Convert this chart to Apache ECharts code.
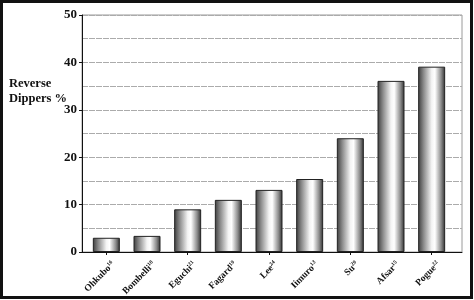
<!DOCTYPE html>
<html>
<head>
<meta charset="utf-8">
<script src="https://cdn.jsdelivr.net/npm/echarts@6/dist/echarts.min.js"></script>
<style>html,body{margin:0;padding:0;background:#fff;}#c{width:474px;height:300px;}</style>
</head>
<body>
<div id="c"></div>
<script>
const studies = ['Ohkubo','Bombelli','Eguchi','Fagard','Lee','Iimuro','Su','Afsar','Pogue'];
const refs = ['16','18','21','19','24','13','20','15','22'];
const reverseDippers = [3.0, 3.4, 9.0, 11.0, 13.1, 15.4, 24.0, 36.1, 39.1];
const yMin = 0, yMax = 50, yStep = 10;
const yTitle = ['Reverse', 'Dippers %'];

const serif = '"Liberation Serif", "Times New Roman", serif';
const chart = echarts.init(document.getElementById('c'));
chart.setOption({
  backgroundColor: '#fff',
  animation: false,
  grid: [
    {left: 82, top: 15, width: 380, height: 237, show: true, borderColor: '#9a9a9a', borderWidth: 1, backgroundColor: 'transparent'},
    {left: 86, top: 15, width: 366, height: 237},
    {left: 93, top: 15, width: 366, height: 237}
  ],
  xAxis: [
    {type: 'value', gridIndex: 0, min: 0, max: 1, axisLine: {show: true, onZero: false, lineStyle: {color: '#111', width: 1}},
     axisTick: {show: false}, axisLabel: {show: false}, splitLine: {show: false}},
    {type: 'category', gridIndex: 1, data: studies,
     axisLine: {show: false},
     axisTick: {show: true, alignWithLabel: true, length: 3, lineStyle: {color: '#111'}},
     axisLabel: {show: false}},
    {type: 'category', gridIndex: 2, data: studies,
     axisLine: {show: false}, axisTick: {show: false},
     axisLabel: {
       interval: 0, rotate: 45, margin: 11,
       formatter: (v, i) => '{n|' + v + '}{s|' + refs[i] + '}',
       rich: {
         n: {fontFamily: serif, fontWeight: 'bold', fontSize: 9.5, color: '#111', lineHeight: 11},
         s: {fontFamily: serif, fontWeight: 'bold', fontSize: 5.5, color: '#111', verticalAlign: 'top', lineHeight: 11}
       }
     }}
  ],
  yAxis: [
    {type: 'value', gridIndex: 0, min: yMin, max: yMax, interval: yStep,
     axisLine: {show: true, lineStyle: {color: '#111', width: 1}},
     axisTick: {show: true, length: 3, lineStyle: {color: '#111'}},
     axisLabel: {fontFamily: serif, fontWeight: 'bold', fontSize: 13, color: '#111', margin: 5},
     splitLine: {show: true, lineStyle: {color: '#ababab', type: [6, 1], width: 1}},
     minorTick: {show: false, splitNumber: 2},
     minorSplitLine: {show: true, lineStyle: {color: '#ababab', type: [6, 1], width: 1}}},
    {type: 'value', gridIndex: 1, min: yMin, max: yMax, show: false},
    {type: 'value', gridIndex: 2, min: yMin, max: yMax, show: false}
  ],
  series: [{
    type: 'bar', xAxisIndex: 1, yAxisIndex: 1,
    data: reverseDippers, barWidth: 27,
    itemStyle: {
      borderColor: '#222', borderWidth: 1,
      color: new echarts.graphic.LinearGradient(0, 0, 1, 0, [
        {offset: 0, color: '#3c3c3c'},
        {offset: 0.2, color: '#8a8a8a'},
        {offset: 0.5, color: '#f4f4f4'},
        {offset: 0.62, color: '#ffffff'},
        {offset: 0.85, color: '#8c8c8c'},
        {offset: 1, color: '#2e2e2e'}
      ])
    }
  }],
  graphic: [
    {type: 'text', left: 9, top: 76, style: {text: yTitle.join('\n'), fontFamily: serif, fontWeight: 'bold', fontSize: 12.5, lineHeight: 15.5, fill: '#111'}},
    {type: 'rect', shape: {x: 1.5, y: 1.5, width: 470, height: 296}, style: {fill: 'none', stroke: '#111', lineWidth: 3}, silent: true}
  ]
});
</script>
</body>
</html>
